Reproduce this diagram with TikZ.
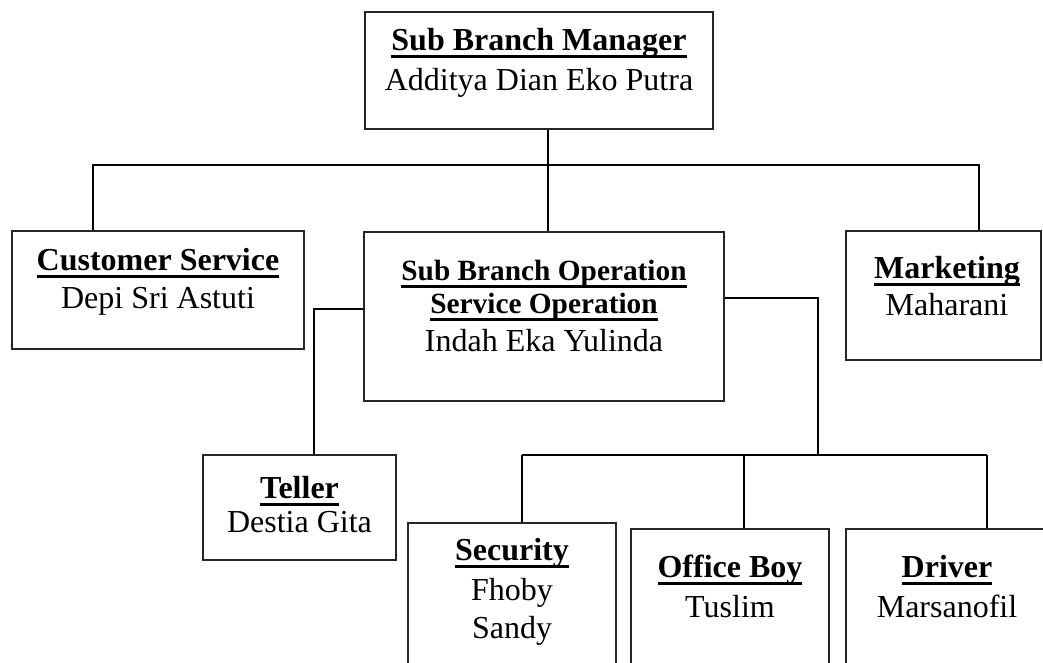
\documentclass[tikz,border=0pt]{standalone}
\usepackage{fontspec}
\setmainfont{Liberation Serif}
\newcommand{\tul}[1]{\setbox0\hbox{#1}\rlap{\rule[-6.2pt]{\wd0}{2.1pt}}\box0}
\tikzset{
  box/.style={draw=black!85, line width=0.9pt, rectangle, inner sep=0pt, fill=white},
  conn/.style={draw=black, line width=1.4pt},
  ttl/.style={anchor=base, inner sep=0pt, font=\fontsize{24}{28}\selectfont\bfseries},
  ttls/.style={anchor=base, inner sep=0pt, font=\fontsize{22}{26}\selectfont\bfseries},
  nm/.style={anchor=base, inner sep=0pt, font=\fontsize{24}{28}\selectfont}
}
\begin{document}
\begin{tikzpicture}[x=0.75pt,y=-0.75pt]
\useasboundingbox (0,0) rectangle (1043,662);
\clip (0,0) rectangle (1043,662);
\fill[white] (0,0) rectangle (1043,662);
% connector coordinates
\coordinate (bL) at (93,165);
\coordinate (bM) at (548,165);
\coordinate (bR) at (979,165);
\coordinate (tl) at (314,309);
\coordinate (tr) at (818,298);
\coordinate (s1) at (522,455);
\coordinate (s2) at (744,455);
\coordinate (s3) at (987,455);
\coordinate (sm) at (818,455);
% boxes
\node[box, minimum width=261pt, minimum height=87.75pt] (mgr) at (539,70.5) {};
\node[box, minimum width=219pt, minimum height=88.5pt] (cs) at (158,290) {};
\node[box, minimum width=270pt, minimum height=126.75pt] (sbo) at (544,316.5) {};
\node[box, minimum width=146.25pt, minimum height=96.75pt] (mkt) at (943.5,295.5) {};
\node[box, minimum width=144.75pt, minimum height=78.75pt] (tel) at (299.5,507.5) {};
\node[box, minimum width=156pt, minimum height=132.75pt] (sec) at (512,611.5) {};
\node[box, minimum width=148.5pt, minimum height=128.25pt] (ob) at (730,614.5) {};
\node[box, minimum width=153pt, minimum height=128.25pt] (drv) at (948,614.5) {};
% connectors
\draw[conn] (mgr.south -| bM) -- (sbo.north -| bM);
\draw[conn] (cs.north -| bL) -- (bL) -- (bR) -- (mkt.north -| bR);
\draw[conn] (sbo.west |- tl) -- (tl) -- (tel.north -| tl);
\draw[conn] (sbo.east |- tr) -- (tr) -- (sm);
\draw[conn] (s1) -- (s3);
\draw[conn] (s1) -- (sec.north -| s1);
\draw[conn] (s2) -- (ob.north -| s2);
\draw[conn] (s3) -- (drv.north -| s3);
% texts
\node[ttl] (mgrT) at (539,50) {\tul{Sub Branch Manager}};
\node[nm] (mgrN) at (539,90) {Additya Dian Eko Putra};
\node[ttl] (csT) at (158,270) {\tul{Customer Service}};
\node[nm] (csN) at (158,308) {Depi Sri Astuti};
\node[ttls] (sboT1) at (544,280) {\tul{Sub Branch Operation}};
\node[ttls] (sboT2) at (544,313) {\tul{Service Operation}};
\node[nm] (sboN) at (544,351) {Indah Eka Yulinda};
\node[ttl] (mktT) at (947,278) {\tul{Marketing}};
\node[nm] (mktN) at (947,315) {Maharani};
\node[ttl] (telT) at (299.5,498) {\tul{Teller}};
\node[nm] (telN) at (299.5,532) {Destia Gita};
\node[ttl] (secT) at (512,560) {\tul{Security}};
\node[nm] (secN1) at (512,600) {Fhoby};
\node[nm] (secN2) at (512,638) {Sandy};
\node[ttl] (obT) at (730,577) {\tul{Office Boy}};
\node[nm] (obN) at (730,617) {Tuslim};
\node[ttl] (drvT) at (947,577) {\tul{Driver}};
\node[nm] (drvN) at (947,617) {Marsanofil};
\end{tikzpicture}
\end{document}
